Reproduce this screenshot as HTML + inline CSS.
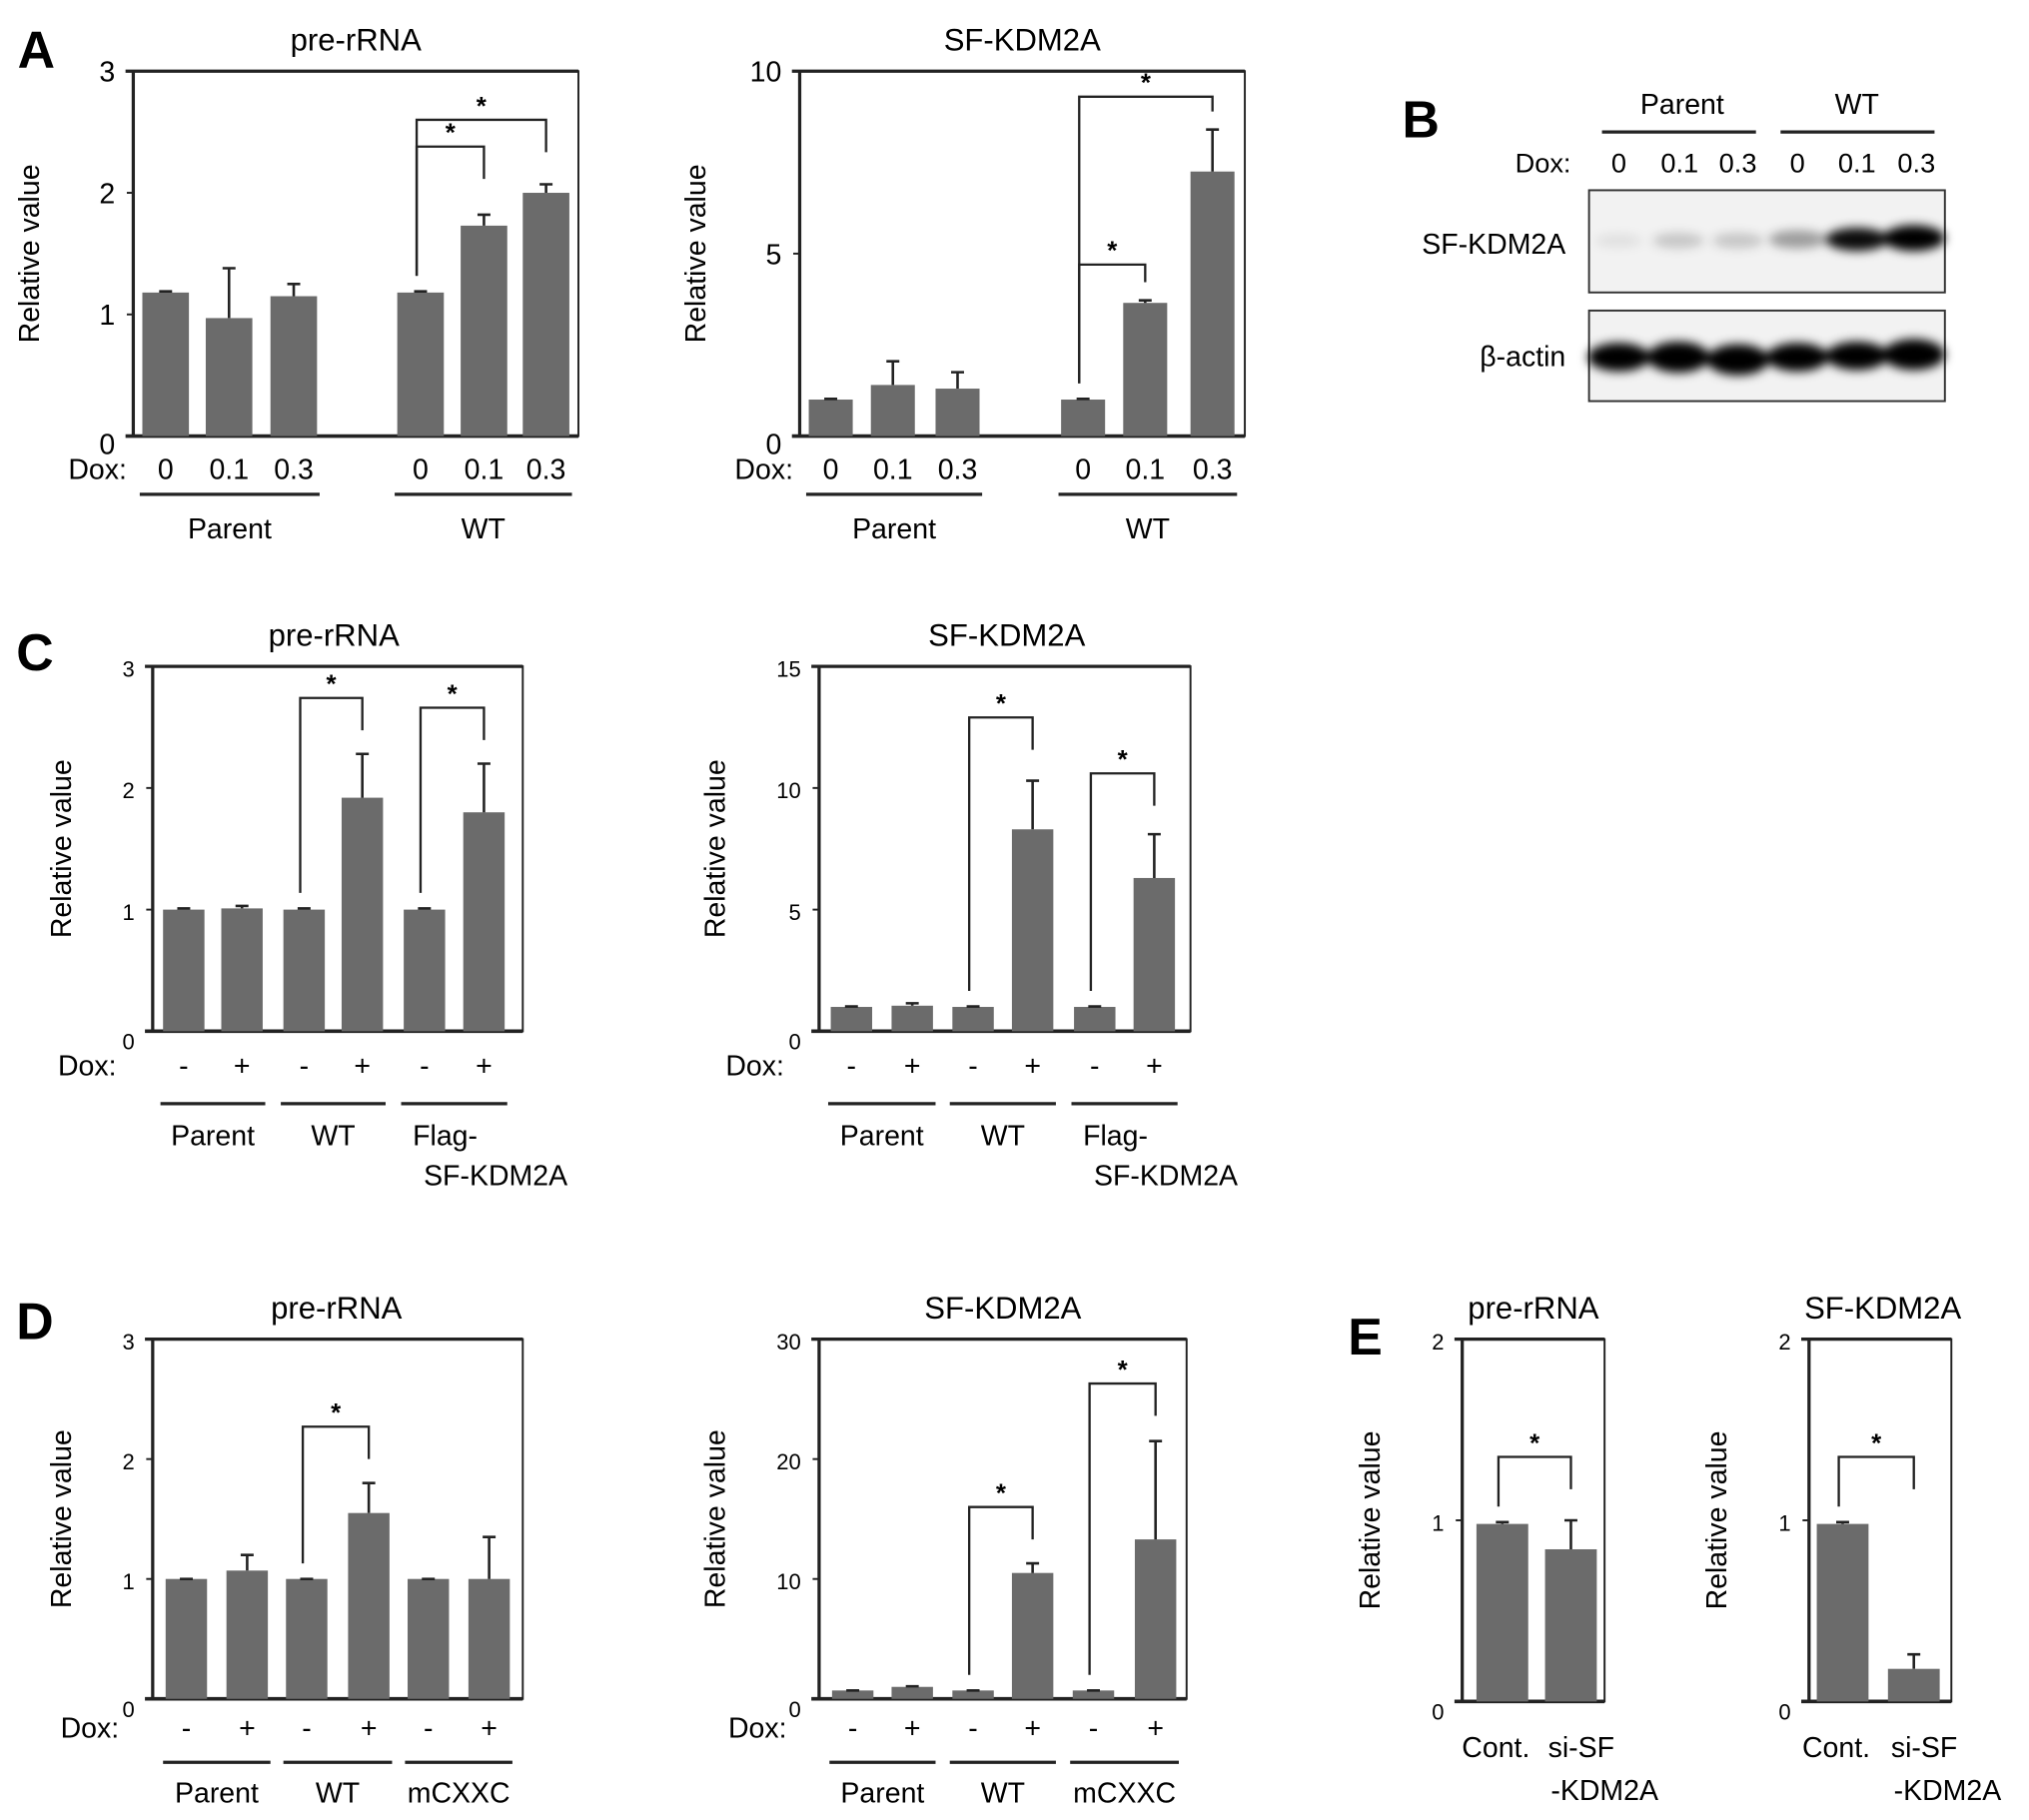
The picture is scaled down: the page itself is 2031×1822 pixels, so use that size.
<!DOCTYPE html>
<html><head><meta charset="utf-8">
<style>
html,body{margin:0;padding:0;background:#fff;}
svg{display:block;font-family:"Liberation Sans",Arial,sans-serif;}
</style></head>
<body>
<svg id="fig" width="2031" height="1822" viewBox="0 0 1568 1406.6" xmlns="http://www.w3.org/2000/svg">
<defs>
<filter id="blur" x="-50%" y="-100%" width="200%" height="300%"><feGaussianBlur stdDeviation="4"/></filter>
</defs>
<rect x="0" y="0" width="1568" height="1406.6" fill="#fff"/>
<g id="root"></g>
<!-- Panel B western blot -->
<g>
<text x="1098" y="106" font-size="40" font-weight="bold" text-anchor="middle">B</text>
<text x="1300" y="88" font-size="22" text-anchor="middle">Parent</text>
<line x1="1238" y1="102" x2="1357" y2="102" stroke="#222" stroke-width="2.5"/>
<text x="1435" y="88" font-size="22" text-anchor="middle">WT</text>
<line x1="1376" y1="102" x2="1495" y2="102" stroke="#222" stroke-width="2.5"/>
<text x="1214" y="133" font-size="21" text-anchor="end">Dox:</text>
<text x="1251" y="133" font-size="21" text-anchor="middle">0</text>
<text x="1298" y="133" font-size="21" text-anchor="middle">0.1</text>
<text x="1343" y="133" font-size="21" text-anchor="middle">0.3</text>
<text x="1389" y="133" font-size="21" text-anchor="middle">0</text>
<text x="1435" y="133" font-size="21" text-anchor="middle">0.1</text>
<text x="1481" y="133" font-size="21" text-anchor="middle">0.3</text>
<rect x="1228" y="147" width="275" height="79" fill="#f2f2f2" stroke="#333" stroke-width="1.5"/>
<rect x="1228" y="240" width="275" height="70" fill="#f2f2f2" stroke="#333" stroke-width="1.5"/>
<g filter="url(#blur)">
<ellipse cx="1251" cy="186" rx="18" ry="5" fill="#000" opacity="0.08"/>
<ellipse cx="1297" cy="186" rx="20" ry="6" fill="#000" opacity="0.18"/>
<ellipse cx="1343" cy="186" rx="20" ry="6" fill="#000" opacity="0.18"/>
<ellipse cx="1389" cy="185" rx="22" ry="7" fill="#000" opacity="0.35"/>
<ellipse cx="1435" cy="185" rx="24" ry="9" fill="#000" opacity="0.95"/>
<ellipse cx="1479" cy="184" rx="24" ry="10" fill="#000" opacity="1"/>
<ellipse cx="1251" cy="276" rx="24" ry="11" fill="#000"/>
<ellipse cx="1297" cy="276" rx="24" ry="12" fill="#000"/>
<ellipse cx="1343" cy="278" rx="24" ry="12" fill="#000"/>
<ellipse cx="1389" cy="276" rx="24" ry="11" fill="#000"/>
<ellipse cx="1435" cy="275" rx="24" ry="11" fill="#000"/>
<ellipse cx="1479" cy="274" rx="24" ry="12" fill="#000"/>
</g>
<text x="1210" y="196" font-size="22" text-anchor="end">SF-KDM2A</text>
<text x="1210" y="283" font-size="22" text-anchor="end">β-actin</text>
</g>
</svg>
<script>
// ---------- Data ----------
const aLeftValues = [1.18, 0.97, 1.15, 1.18, 1.73, 2.0];
const aLeftErrors = [1.19, 1.38, 1.25, 1.19, 1.82, 2.07];
const aLeftTicks = [0, 1, 2, 3];
const aRightValues = [1.0, 1.4, 1.3, 1.0, 3.65, 7.25];
const aRightErrors = [1.02, 2.05, 1.75, 1.02, 3.72, 8.4];
const aRightTicks = [0, 5, 10];
const aDoxLabels = ["0", "0.1", "0.3", "0", "0.1", "0.3"];
const aGroups = ["Parent", "WT"];

const cLeftValues = [1.0, 1.01, 1.0, 1.92, 1.0, 1.8];
const cLeftErrors = [1.01, 1.03, 1.01, 2.28, 1.01, 2.2];
const cLeftTicks = [0, 1, 2, 3];
const cRightValues = [1.0, 1.05, 1.0, 8.3, 1.0, 6.3];
const cRightErrors = [1.02, 1.15, 1.02, 10.3, 1.02, 8.1];
const cRightTicks = [0, 5, 10, 15];
const pmLabels = ["-", "+", "-", "+", "-", "+"];
const cGroups = ["Parent", "WT", "Flag-|SF-KDM2A"];

const dLeftValues = [1.0, 1.07, 1.0, 1.55, 1.0, 1.0];
const dLeftErrors = [1.0, 1.2, 1.0, 1.8, 1.0, 1.35];
const dLeftTicks = [0, 1, 2, 3];
const dRightValues = [0.7, 1.0, 0.7, 10.5, 0.7, 13.3];
const dRightErrors = [0.7, 1.05, 0.7, 11.3, 0.7, 21.5];
const dRightTicks = [0, 10, 20, 30];
const dGroups = ["Parent", "WT", "mCXXC"];

const eLeftValues = [0.98, 0.84];
const eLeftErrors = [0.99, 1.0];
const eRightValues = [0.98, 0.18];
const eRightErrors = [0.99, 0.26];
const eTicks = [0, 1, 2];
const eCats = ["Cont.", "si-SF|-KDM2A"];

// ---------- Drawing ----------
const NS = "http://www.w3.org/2000/svg";
const root = document.getElementById("root");
function mk(tag, attrs, parent, txt) {
  const e = document.createElementNS(NS, tag);
  for (const k in attrs) e.setAttribute(k, attrs[k]);
  if (txt !== undefined) e.textContent = txt;
  (parent || root).appendChild(e);
  return e;
}

function chart(c) {
  const g = mk("g", {});
  
  
  const maxT = c.ticks[c.ticks.length - 1];
  const y = v => c.bottom - (v / maxT) * (c.bottom - c.top);
  mk("rect", {x: c.left, y: c.top, width: c.right - c.left, height: c.bottom - c.top, fill: "none", stroke: "#222", "stroke-width": 1.5}, g);
  const ax = mk("line", {x1: c.left, y1: c.top, x2: c.left, y2: c.bottom, stroke: "#222", "stroke-width": 2.5}, g);
  
  
  mk("line", {x1: c.left - 6, y1: c.top, x2: c.right, y2: c.top, stroke: "#222", "stroke-width": 2.5}, g);
  const xa = mk("line", {x1: c.left - 6, y1: c.bottom, x2: c.right, y2: c.bottom, stroke: "#222", "stroke-width": 2.8}, g);
  
  
  c.ticks.forEach(t => {
    mk("line", {x1: c.left - 5, y1: y(t), x2: c.left, y2: y(t), stroke: "#222", "stroke-width": 1.5}, g);
    const tl = mk("text", {x: c.left - 14, y: y(t) + 8 + (t === 0 ? 6 : 0), "font-size": c.tickSize || 22, "text-anchor": "end"}, g, String(t));
    
    
  });
  const tt = mk("text", {x: c.titleX, y: c.top - 16, "font-size": 24, "text-anchor": "middle"}, g, c.title);
  
  
  const yt = mk("text", {x: 0, y: 0, "font-size": 22, "text-anchor": "middle", transform: `translate(${c.yTitleX},${(c.top + c.bottom) / 2}) rotate(-90)`}, g, "Relative value");
  
  
  c.values.forEach((v, i) => {
    const cx = c.centers[i], w = c.barW;
    const b = mk("rect", {x: cx - w / 2, y: y(v), width: w, height: c.bottom - y(v), fill: "#6b6b6b"}, g);
    
    
    const e = c.errors[i];
    if (e > v) {
      const el = mk("path", {d: `M${cx} ${y(v)}V${y(e)}M${cx - 5} ${y(e)}H${cx + 5}`, stroke: "#222", "stroke-width": 2, fill: "none"}, g);
      
      
    } else {
      mk("line", {x1: cx - 5, y1: y(v), x2: cx + 5, y2: y(v), stroke: "#222", "stroke-width": 2}, g);
    }
  });
  (c.brackets || []).forEach(br => {
    const [i, j, level] = br;
    const x1 = c.centers[i] - 3, x2 = c.centers[j];
    const yl = y(level);
    const yb1 = y(c.errors[i]) - 12, yb2 = y(c.errors[j]) - 14;
    const p = mk("path", {d: `M${x1} ${yb1}V${yl}H${x2}V${Math.min(yb2, yl + 25)}`, stroke: "#222", "stroke-width": 1.8, fill: "none"}, g);
    
    
    const s = mk("text", {x: (x1 + x2) / 2, y: yl - 4, "font-size": 20, "text-anchor": "middle", "font-weight": "bold"}, g, "*");
    
    
  });
  if (c.xLabels) {
    c.xLabels.forEach((l, i) => {
      const t = mk("text", {x: c.centers[i], y: c.xLabelY, "font-size": 22, "text-anchor": "middle"}, g, l);
      
      
    });
    const d = mk("text", {x: c.doxX, y: c.xLabelY, "font-size": 22, "text-anchor": "end"}, g, "Dox:");
    
    
  }
  (c.groups || []).forEach((gname, k) => {
    const idx = c.groupIdx[k];
    const xa1 = c.centers[idx[0]] - c.barW / 2 - 2, xa2 = c.centers[idx[idx.length - 1]] + c.barW / 2 + 2;
    mk("line", {x1: xa1, y1: c.groupLineY, x2: xa2, y2: c.groupLineY, stroke: "#222", "stroke-width": 2.5}, g);
    const parts = gname.split("|");
    parts.forEach((p, pi) => {
      const gx = parts.length > 1 ? xa1 + (pi === 0 ? 34 : 73) : (xa1 + xa2) / 2;
      const t = mk("text", {x: gx, y: c.groupY + pi * 31, "font-size": 22, "text-anchor": "middle"}, g, p);
      
      
    });
  });
  (c.cats || []).forEach((cat, i) => {
    const parts = cat.split("|");
    parts.forEach((p, pi) => {
      const t = mk("text", {x: c.centers[i] + (pi === 1 ? 26 : (i === 1 ? 8 : -5)), y: c.catY + pi * 33, "font-size": 22, "text-anchor": "middle"}, g, p);
      
      
    });
  });
  return g;
}

function letter(l, x, yy) {
  const t = mk("text", {x: x, y: yy, "font-size": 40, "font-weight": "bold", "text-anchor": "middle"}, root, l);
  
  
}

letter("A", 28, 52);
chart({name: "chart-a-pre-rrna", left: 103, right: 447, top: 55, bottom: 337, ticks: aLeftTicks, values: aLeftValues, errors: aLeftErrors,
  centers: [128, 177, 227, 325, 374, 422], barW: 36, title: "pre-rRNA", titleX: 275, yTitleX: 30,
  brackets: [[3, 4, 2.38], [3, 5, 2.6]], xLabels: aDoxLabels, xLabelY: 370, doxX: 98,
  groups: aGroups, groupIdx: [[0, 1, 2], [3, 4, 5]], groupLineY: 382, groupY: 416});
chart({name: "chart-a-sf-kdm2a", left: 618, right: 962, top: 55, bottom: 337, ticks: aRightTicks, values: aRightValues, errors: aRightErrors,
  centers: [642, 690, 740, 837, 885, 937], barW: 34, title: "SF-KDM2A", titleX: 790, yTitleX: 545,
  brackets: [[3, 4, 4.7], [3, 5, 9.3]], xLabels: aDoxLabels, xLabelY: 370, doxX: 613,
  groups: aGroups, groupIdx: [[0, 1, 2], [3, 4, 5]], groupLineY: 382, groupY: 416});

letter("C", 27, 518);
chart({name: "chart-c-pre-rrna", left: 118, right: 404, top: 515, bottom: 797, ticks: cLeftTicks, tickSize: 17, values: cLeftValues, errors: cLeftErrors,
  centers: [142, 187, 235, 280, 328, 374], barW: 32, title: "pre-rRNA", titleX: 258, yTitleX: 55,
  brackets: [[2, 3, 2.74], [4, 5, 2.66]], xLabels: pmLabels, xLabelY: 831, doxX: 90,
  groups: cGroups, groupIdx: [[0, 1], [2, 3], [4, 5]], groupLineY: 853, groupY: 885});
chart({name: "chart-c-sf-kdm2a", left: 633, right: 920, top: 515, bottom: 797, ticks: cRightTicks, tickSize: 17, values: cRightValues, errors: cRightErrors,
  centers: [658, 705, 752, 798, 846, 892], barW: 32, title: "SF-KDM2A", titleX: 778, yTitleX: 560,
  brackets: [[2, 3, 12.9], [4, 5, 10.6]], xLabels: pmLabels, xLabelY: 831, doxX: 606,
  groups: cGroups, groupIdx: [[0, 1], [2, 3], [4, 5]], groupLineY: 853, groupY: 885});

letter("D", 27, 1035);
chart({name: "chart-d-pre-rrna", left: 118, right: 404, top: 1035, bottom: 1313, ticks: dLeftTicks, tickSize: 17, values: dLeftValues, errors: dLeftErrors,
  centers: [144, 191, 237, 285, 331, 378], barW: 32, title: "pre-rRNA", titleX: 260, yTitleX: 55,
  brackets: [[2, 3, 2.27]], xLabels: pmLabels, xLabelY: 1343, doxX: 92,
  groups: dGroups, groupIdx: [[0, 1], [2, 3], [4, 5]], groupLineY: 1362, groupY: 1393});
chart({name: "chart-d-sf-kdm2a", left: 633, right: 917, top: 1035, bottom: 1313, ticks: dRightTicks, tickSize: 17, values: dRightValues, errors: dRightErrors,
  centers: [659, 705, 752, 798, 845, 893], barW: 32, title: "SF-KDM2A", titleX: 775, yTitleX: 560,
  brackets: [[2, 3, 16], [4, 5, 26.3]], xLabels: pmLabels, xLabelY: 1343, doxX: 608,
  groups: dGroups, groupIdx: [[0, 1], [2, 3], [4, 5]], groupLineY: 1362, groupY: 1393});

letter("E", 1055, 1047);
chart({name: "chart-e-pre-rrna", left: 1130, right: 1240, top: 1035, bottom: 1315, ticks: eTicks, tickSize: 17, values: eLeftValues, errors: eLeftErrors,
  centers: [1161, 1214], barW: 40, title: "pre-rRNA", titleX: 1185, yTitleX: 1066,
  brackets: [[0, 1, 1.35]], cats: eCats, catY: 1358});
chart({name: "chart-e-sf-kdm2a", left: 1398, right: 1508, top: 1035, bottom: 1315, ticks: eTicks, tickSize: 17, values: eRightValues, errors: eRightErrors,
  centers: [1424, 1479], barW: 40, title: "SF-KDM2A", titleX: 1455, yTitleX: 1334,
  brackets: [[0, 1, 1.35]], cats: eCats, catY: 1358});
</script>
</body></html>
